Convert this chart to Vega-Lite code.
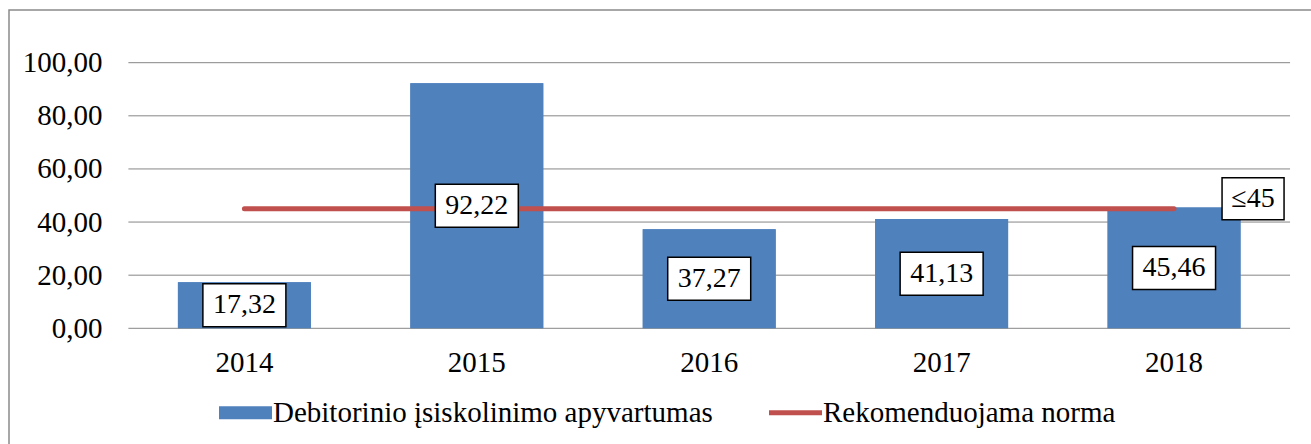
{
  "$schema": "https://vega.github.io/schema/vega-lite/v6.json",
  "width": 1302,
  "height": 434,
  "autosize": {"type": "none"},
  "padding": {"left": 9, "top": 10, "right": 0, "bottom": 0},
  "background": "white",
  "config": {
    "locale": {"number": {"decimal": ",", "thousands": " ", "grouping": [3], "currency": ["", ""]}},
    "view": {"stroke": "#8a8a8a", "strokeWidth": 1.5, "strokeDash": [1302, 1736, 434]},
    "font": "Liberation Serif, Times New Roman, serif",
    "axis": {"labelFont": "Liberation Serif, Times New Roman, serif"},
    "legend": {"labelFont": "Liberation Serif, Times New Roman, serif"},
    "text": {"font": "Liberation Serif, Times New Roman, serif"}
  },
  "datasets": {
    "main": [
      {"year": "2014", "value": 17.32, "norm": 45},
      {"year": "2015", "value": 92.22, "norm": 45},
      {"year": "2016", "value": 37.27, "norm": 45},
      {"year": "2017", "value": 41.13, "norm": 45},
      {"year": "2018", "value": 45.46, "norm": 45}
    ],
    "ticks": [
      {"tick": 0}, {"tick": 20}, {"tick": 40}, {"tick": 60}, {"tick": 80}, {"tick": 100}
    ]
  },
  "layer": [
    {
      "data": {"name": "main"},
      "mark": {"type": "bar"},
      "encoding": {
        "x": {"field": "year", "type": "nominal", "scale": {"type": "band", "paddingInner": 0.428, "paddingOuter": 0.515, "align": 0.7056},
          "axis": {"orient": "bottom", "offset": -115.7, "domain": false, "ticks": false, "grid": false, "labelPadding": 34, "labelBaseline": "middle", "labelAngle": 0, "labelFontSize": 29, "labelColor": "black", "title": null}},
        "y": {"field": "value", "type": "quantitative", "scale": {"domain": [-43.56, 119.84], "nice": false, "zero": false},
          "axis": {"orient": "left", "offset": -103, "values": [0, 20, 40, 60, 80, 100], "format": ".2f", "domain": false, "ticks": false, "grid": false, "labelPadding": 10, "labelFontSize": 29, "labelColor": "black", "title": null}},
        "y2": {"datum": 0},
        "color": {"datum": "Debitorinio įsiskolinimo apyvartumas", "type": "nominal",
          "scale": {"domain": ["Debitorinio įsiskolinimo apyvartumas", "Rekomenduojama norma"], "range": ["#4F81BD", "#C0504D"]},
          "legend": {"orient": "none", "legendX": 210, "legendY": 376, "direction": "horizontal", "title": null, "padding": 0, "labelFontSize": 29, "labelColor": "black", "labelOffset": 1, "columnPadding": 56, "symbolSize": 2809, "symbolStrokeWidth": 0, "labelLimit": 0,
            "encode": {"symbols": {"update": {
              "shape": {"signal": "datum.value === 'Rekomenduojama norma' ? 'M-1,-0.094H1V0.094H-1Z' : 'M-1,-0.245H1V0.245H-1Z'"},
              "fill": {"signal": "datum.value === 'Rekomenduojama norma' ? '#C0504D' : '#4F81BD'"},
              "stroke": {"value": "transparent"},
              "opacity": {"value": 1}
            }}}}
        }
      }
    },
    {
      "data": {"name": "ticks"},
      "mark": {"type": "rule", "color": "#868686", "strokeWidth": 1, "xOffset": -116, "x2Offset": 116},
      "encoding": {
        "x": {"datum": "2014", "type": "nominal", "scale": {"type": "band", "paddingInner": 0.428, "paddingOuter": 0.515, "align": 0.7056},
          "axis": {"orient": "bottom", "offset": -115.7, "domain": false, "ticks": false, "grid": false, "labelPadding": 34, "labelBaseline": "middle", "labelAngle": 0, "labelFontSize": 29, "labelColor": "black", "title": null}},
        "x2": {"datum": "2018"},
        "y": {"field": "tick", "type": "quantitative", "scale": {"domain": [-43.56, 119.84], "nice": false, "zero": false}, "axis": null}
      }
    },
    {
      "data": {"name": "main"},
      "mark": {"type": "bar"},
      "encoding": {
        "x": {"field": "year", "type": "nominal", "scale": {"type": "band", "paddingInner": 0.428, "paddingOuter": 0.515, "align": 0.7056},
          "axis": {"orient": "bottom", "offset": -115.7, "domain": false, "ticks": false, "grid": false, "labelPadding": 34, "labelBaseline": "middle", "labelAngle": 0, "labelFontSize": 29, "labelColor": "black", "title": null}},
        "y": {"field": "value", "type": "quantitative", "scale": {"domain": [-43.56, 119.84], "nice": false, "zero": false}, "axis": null},
        "y2": {"datum": 0},
        "color": {"value": "#4F81BD"}
      }
    },
    {
      "data": {"name": "main"},
      "mark": {"type": "line", "strokeWidth": 5, "strokeCap": "round"},
      "encoding": {
        "x": {"field": "year", "type": "nominal", "scale": {"type": "band", "paddingInner": 0.428, "paddingOuter": 0.515, "align": 0.7056},
          "axis": {"orient": "bottom", "offset": -115.7, "domain": false, "ticks": false, "grid": false, "labelPadding": 34, "labelBaseline": "middle", "labelAngle": 0, "labelFontSize": 29, "labelColor": "black", "title": null}},
        "y": {"field": "norm", "type": "quantitative", "scale": {"domain": [-43.56, 119.84], "nice": false, "zero": false}, "axis": null},
        "color": {"datum": "Rekomenduojama norma", "type": "nominal",
          "scale": {"domain": ["Debitorinio įsiskolinimo apyvartumas", "Rekomenduojama norma"], "range": ["#4F81BD", "#C0504D"]},
          "legend": {"orient": "none", "legendX": 210, "legendY": 376, "direction": "horizontal", "title": null, "padding": 0, "labelFontSize": 29, "labelColor": "black", "labelOffset": 1, "columnPadding": 56, "symbolSize": 2809, "symbolStrokeWidth": 0, "labelLimit": 0,
            "encode": {"symbols": {"update": {
              "shape": {"signal": "datum.value === 'Rekomenduojama norma' ? 'M-1,-0.094H1V0.094H-1Z' : 'M-1,-0.245H1V0.245H-1Z'"},
              "fill": {"signal": "datum.value === 'Rekomenduojama norma' ? '#C0504D' : '#4F81BD'"},
              "stroke": {"value": "transparent"},
              "opacity": {"value": 1}
            }}}}
        }
      }
    },
    {
      "data": {"name": "main"},
      "mark": {"type": "point", "shape": "M-1,-0.518H1V0.518H-1Z", "size": 6889, "filled": true, "fill": "white", "stroke": "black", "strokeWidth": 1.5, "opacity": 1},
      "encoding": {
        "x": {"field": "year", "type": "nominal", "scale": {"type": "band", "paddingInner": 0.428, "paddingOuter": 0.515, "align": 0.7056},
          "axis": {"orient": "bottom", "offset": -115.7, "domain": false, "ticks": false, "grid": false, "labelPadding": 34, "labelBaseline": "middle", "labelAngle": 0, "labelFontSize": 29, "labelColor": "black", "title": null}},
        "y": {"field": "value", "type": "quantitative", "scale": {"domain": [-87.12, 239.68], "nice": false, "zero": false}, "axis": null}
      }
    },
    {
      "data": {"name": "main"},
      "mark": {"type": "text", "fontSize": 28, "color": "black", "align": "center", "baseline": "middle"},
      "encoding": {
        "x": {"field": "year", "type": "nominal", "scale": {"type": "band", "paddingInner": 0.428, "paddingOuter": 0.515, "align": 0.7056},
          "axis": {"orient": "bottom", "offset": -115.7, "domain": false, "ticks": false, "grid": false, "labelPadding": 34, "labelBaseline": "middle", "labelAngle": 0, "labelFontSize": 29, "labelColor": "black", "title": null}},
        "y": {"field": "value", "type": "quantitative", "scale": {"domain": [-87.12, 239.68], "nice": false, "zero": false}, "axis": null},
        "text": {"field": "value", "type": "quantitative", "format": ".2f"}
      }
    },
    {
      "data": {"name": "main"},
      "transform": [{"filter": "datum.year === '2018'"}],
      "mark": {"type": "point", "shape": "M-1,-0.677H1V0.677H-1Z", "size": 3844, "filled": true, "fill": "white", "stroke": "black", "strokeWidth": 1.5, "opacity": 1, "xOffset": 79, "yOffset": -10},
      "encoding": {
        "x": {"field": "year", "type": "nominal", "scale": {"type": "band", "paddingInner": 0.428, "paddingOuter": 0.515, "align": 0.7056},
          "axis": {"orient": "bottom", "offset": -115.7, "domain": false, "ticks": false, "grid": false, "labelPadding": 34, "labelBaseline": "middle", "labelAngle": 0, "labelFontSize": 29, "labelColor": "black", "title": null}},
        "y": {"field": "norm", "type": "quantitative", "scale": {"domain": [-43.56, 119.84], "nice": false, "zero": false}, "axis": null}
      }
    },
    {
      "data": {"name": "main"},
      "transform": [{"filter": "datum.year === '2018'"}],
      "mark": {"type": "text", "fontSize": 28, "color": "black", "align": "center", "baseline": "middle", "xOffset": 79, "yOffset": -10, "text": "≤45"},
      "encoding": {
        "x": {"field": "year", "type": "nominal", "scale": {"type": "band", "paddingInner": 0.428, "paddingOuter": 0.515, "align": 0.7056},
          "axis": {"orient": "bottom", "offset": -115.7, "domain": false, "ticks": false, "grid": false, "labelPadding": 34, "labelBaseline": "middle", "labelAngle": 0, "labelFontSize": 29, "labelColor": "black", "title": null}},
        "y": {"field": "norm", "type": "quantitative", "scale": {"domain": [-43.56, 119.84], "nice": false, "zero": false}, "axis": null}
      }
    }
  ],
  "resolve": {"scale": {"y": "independent"}}
}
